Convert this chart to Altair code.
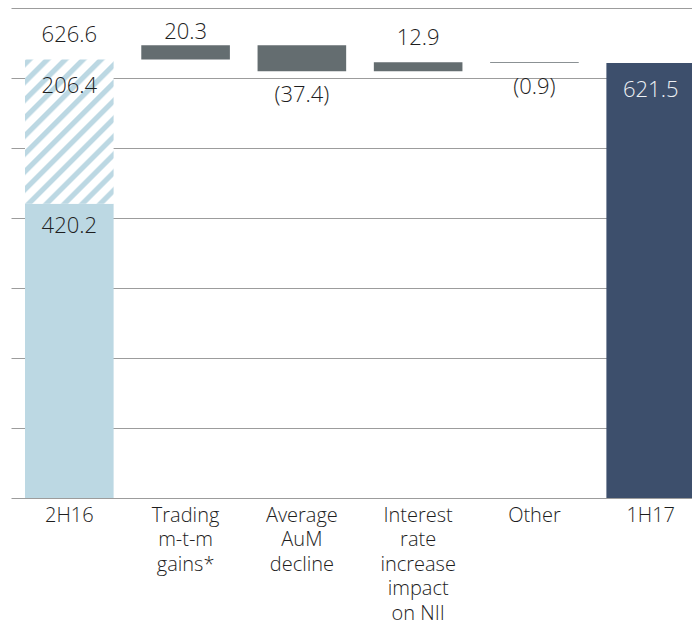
import altair as alt
import pandas as pd

# ---- data ----
categories = ["2H16", "Trading\nm-t-m\ngains*", "Average\nAuM\ndecline",
              "Interest\nrate\nincrease\nimpact\non NII", "Other", "1H17"]
start_base = 420.2      # solid part of 2H16
start_extra = 206.4     # hatched part of 2H16
start_total = 626.6
changes = [20.3, -37.4, 12.9, -0.9]
change_labels = ["20.3", "(37.4)", "12.9", "(0.9)"]
end_total = 621.5
grid_values = list(range(0, 701, 100))

# ---- build waterfall table ----
rows = [
    dict(cat=categories[0], y0=0.0, y1=start_base, kind="base"),
    dict(cat=categories[0], y0=start_base, y1=start_total, kind="hatch"),
]
level = start_total
change_rows = []
for c, ch, lab in zip(categories[1:5], changes, change_labels):
    new = round(level + ch, 1)
    rows.append(dict(cat=c, y0=level, y1=new, kind="change"))
    change_rows.append(dict(cat=c, top=max(level, new), bottom=min(level, new), label=lab, up=ch > 0))
    level = new
rows.append(dict(cat=categories[5], y0=0.0, y1=end_total, kind="end"))
bars = pd.DataFrame(rows)
chg = pd.DataFrame(change_rows)

total_lbl = pd.DataFrame([dict(cat=categories[0], v=start_total, label=f"{start_total:.1f}")])
up_lbl = chg[chg.up].rename(columns={"top": "v"})[["cat", "v", "label"]]
first_up = up_lbl.iloc[:1]
other_up = up_lbl.iloc[1:]
below = chg[~chg.up].rename(columns={"bottom": "v"})[["cat", "v", "label"]]
inside_top = pd.DataFrame([dict(cat=categories[0], v=start_total, label=f"{start_extra:.1f}")])
inside_mid = pd.DataFrame([dict(cat=categories[0], v=start_base, label=f"{start_base:.1f}")])
inside_light = pd.DataFrame([dict(cat=categories[5], v=end_total, label=f"{end_total:.1f}")])

# ---- styles ----
FONT = "Open Sans"
BLUE = "#bcd8e3"
GRAY = "#646d70"
NAVY = "#3d4f6c"
TXT = "#1e1e1e"

# diagonal hatch via a striped linear gradient (stripes run "/")
n = 13
stops = []
for i in range(n):
    t0 = i / n
    stops += [
        alt.GradientStop(offset=t0, color="#ffffff"),
        alt.GradientStop(offset=t0 + 0.10 / n, color=BLUE),
        alt.GradientStop(offset=t0 + 0.40 / n, color=BLUE),
        alt.GradientStop(offset=t0 + 0.52 / n, color="#ffffff"),
    ]
stops.append(alt.GradientStop(offset=1.0, color="#ffffff"))
hatch = alt.Gradient(gradient="linear", stops=stops, x1=0, y1=0, x2=0.7187, y2=1.1724)

x_enc = alt.X(
    "cat:N", sort=categories,
    scale=alt.Scale(paddingInner=0.238, paddingOuter=0.0817, align=0.737),
    axis=alt.Axis(title=None, labelAngle=0, ticks=False, domain=False, grid=False,
                  labelExpr="split(datum.label, '\\n')",
                  labelFont=FONT, labelFontWeight=300, labelFontSize=20,
                  labelLineHeight=24.5, labelPadding=7, labelBaseline="top",
                  labelColor=TXT, labelAlign="center"),
)
y_scale = alt.Scale(domain=[0, 700], nice=False, zero=True)

base = alt.Chart(bars)
bar_solid = base.transform_filter(alt.datum.kind != "hatch").mark_bar().encode(
    x=x_enc,
    y=alt.Y("y0:Q", scale=y_scale,
            axis=alt.Axis(title=None, labels=False, ticks=False, domain=False, grid=True,
                          values=grid_values, gridColor="#9c9c9c", gridWidth=1)),
    y2="y1:Q",
    color=alt.Color("kind:N", scale=alt.Scale(domain=["base", "change", "end"],
                                              range=[BLUE, GRAY, NAVY]), legend=None),
)
bar_hatch = base.transform_filter(alt.datum.kind == "hatch").mark_bar(fill=hatch).encode(
    x=alt.X("cat:N", sort=categories), y=alt.Y("y0:Q", scale=y_scale), y2="y1:Q",
)

def text_layer(df, baseline, dy, color):
    return alt.Chart(df).mark_text(font=FONT, fontWeight=300, fontSize=22,
                                   baseline=baseline, dy=dy, color=color).encode(
        x=alt.X("cat:N", sort=categories), y=alt.Y("v:Q", scale=y_scale), text="label:N")

chart = alt.layer(
    bar_solid, bar_hatch,
    text_layer(total_lbl, "bottom", -12, TXT),
    text_layer(first_up, "bottom", -1, TXT),
    text_layer(other_up, "bottom", -12, TXT),
    text_layer(below, "top", 14, TXT),
    text_layer(inside_top, "top", 17, TXT),
    text_layer(inside_mid, "top", 12, TXT),
    text_layer(inside_light, "top", 17, "#eef1f5"),
).properties(
    width=689, height=490,
    padding={"left": 3, "top": 0, "right": -8, "bottom": 128},
    autosize=alt.AutoSizeParams(type="none"),
).configure_view(stroke=None)

chart.save("out.html", embed_options={"renderer": "svg", "actions": False})
